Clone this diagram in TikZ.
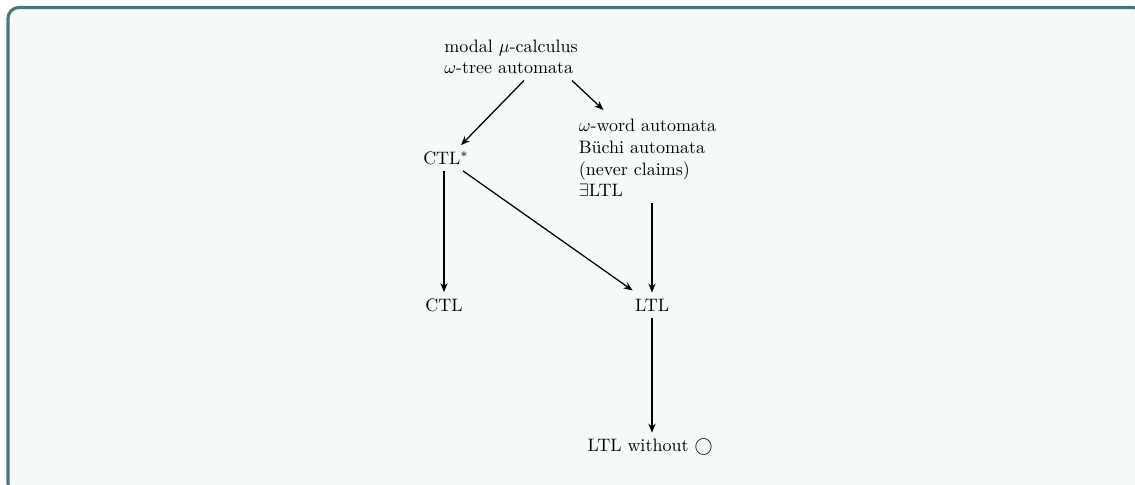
\documentclass[tikz,border=0pt]{standalone}
\usetikzlibrary{arrows.meta,calc}
\definecolor{frameline}{HTML}{4A7878}
\definecolor{framefill}{HTML}{F5F9FA}
\begin{document}
\begin{tikzpicture}[x=0.5556pt,y=-0.5556pt,
  lbl/.style={inner sep=3.33pt,align=left},
  arr/.style={line width=0.7pt,-{Stealth[length=5pt,width=4pt]}}]
\useasboundingbox (0,0) rectangle (1135,484);
\clip (0,0) rectangle (1135,484);
% panel
\draw[frameline,fill=framefill,line width=1.7pt,rounded corners=6pt]
  (8,7.5) rectangle (1144,494);
% logics and automata
\node[lbl] (top)  at (511,57)  {modal $\mu$-calculus\\$\omega$-tree automata};
\node[lbl] (ctls) at (446,158) {CTL$^*$};
\node[lbl] (word) at (647.5,158) {$\omega$-word automata\\B\"uchi automata\\(never claims)\\$\exists$LTL};
\node[lbl] (ctl)  at (444,305) {CTL};
\node[lbl] (ltl)  at (652,305) {LTL};
\node[lbl] (bot)  at (650,447) {LTL without $\bigcirc$};
% inclusions
\draw[arr] ($(top.south)+(13,0)$) -- ($(ctls.north)+(15,0)$);
\draw[arr] ($(top.south)+(61,0)$) -- ($(word.north west)+(31,-3)$);
\draw[arr] (ctls.south -| ctl) -- (ctl);
\draw[arr] ($(ctls.south)+(17,0)$) -- ($(ltl.north west)+(4,-2)$);
\draw[arr] (word.south -| ltl) -- (ltl);
\draw[arr] (ltl) -- (ltl |- bot.north);
\end{tikzpicture}
\end{document}
